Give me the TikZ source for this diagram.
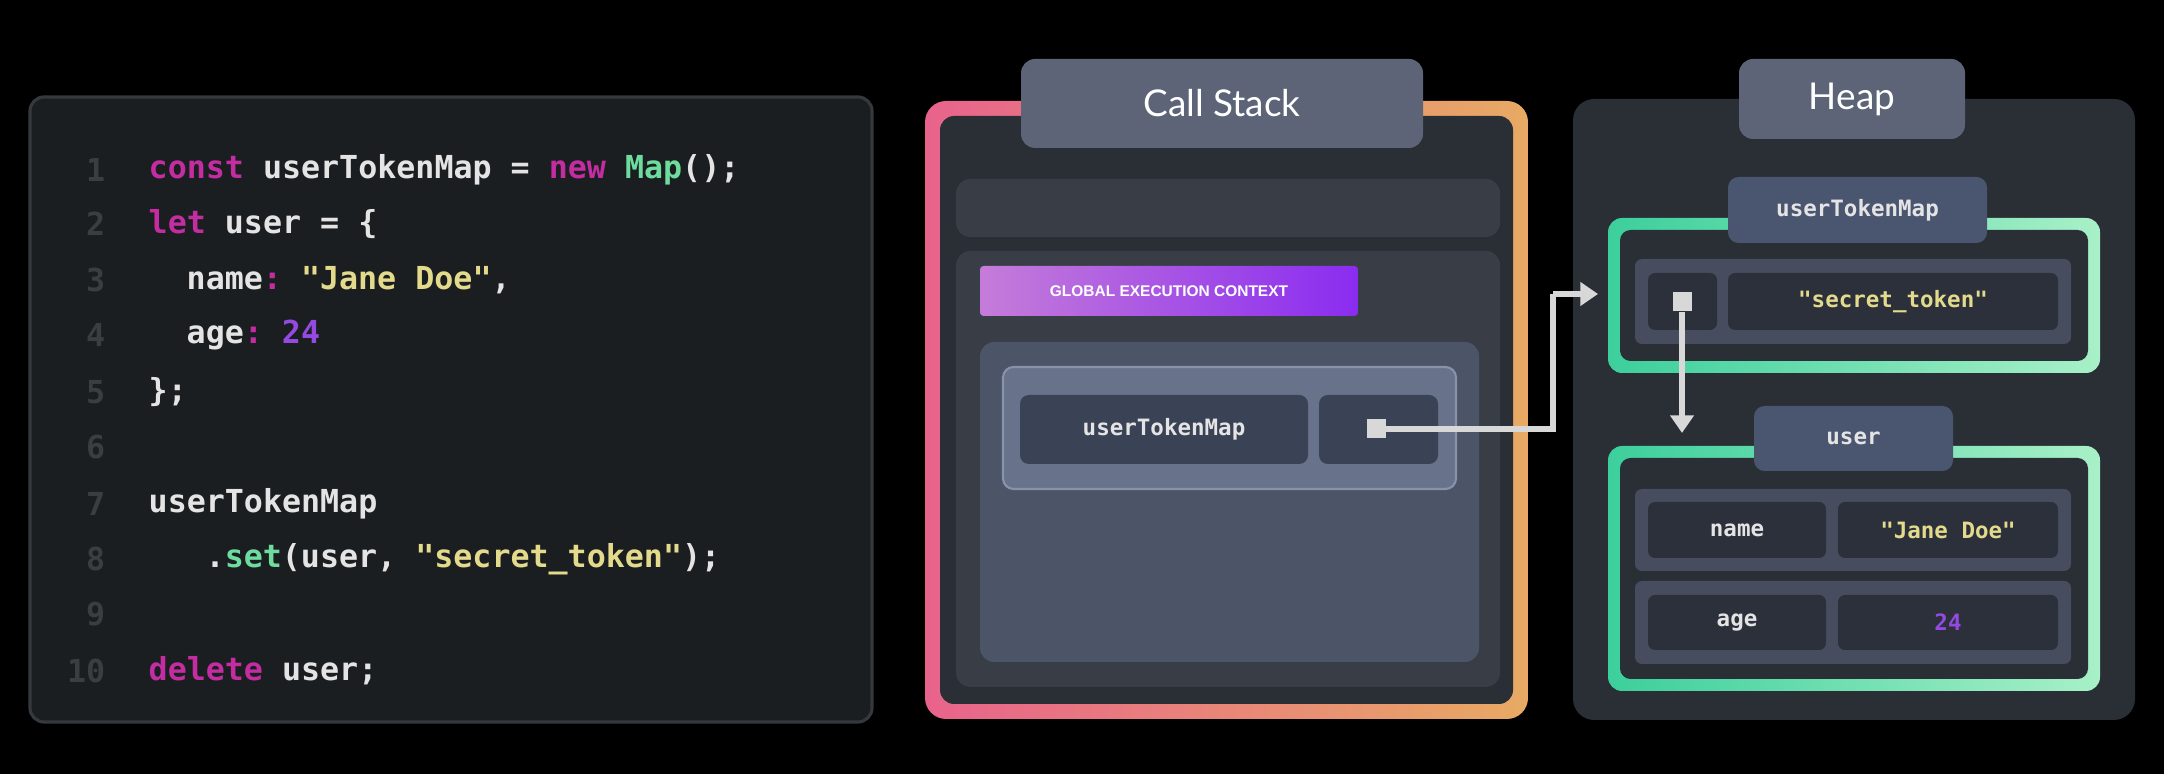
\documentclass[tikz,border=0pt]{standalone}
\usepackage{fontspec}
\setmainfont{Lato}
\setmonofont{DejaVu Sans Mono}
\newfontfamily\gecfont{Liberation Sans}
\usetikzlibrary{fit,arrows.meta}
\definecolor{bg}{HTML}{000000}
\definecolor{codebg}{HTML}{1B1E20}
\definecolor{codeborder}{HTML}{35393D}
\definecolor{kw}{HTML}{C42DA2}
\definecolor{fn}{HTML}{6EDC9E}
\definecolor{str}{HTML}{E4DA8C}
\definecolor{num}{HTML}{9449E0}
\definecolor{plain}{HTML}{E4E4E4}
\definecolor{lnum}{HTML}{3A3E42}
\definecolor{pinkA}{HTML}{E8638C}
\definecolor{orangeA}{HTML}{E8AA64}
\definecolor{panel}{HTML}{2A2E35}
\definecolor{bar}{HTML}{383D46}
\definecolor{titlebox}{HTML}{5D6477}
\definecolor{innerbox}{HTML}{4C5467}
\definecolor{rowbox}{HTML}{68728B}
\definecolor{rowborder}{HTML}{8893AB}
\definecolor{cell}{HTML}{3A4255}
\definecolor{gecL}{HTML}{C57CD9}
\definecolor{gecR}{HTML}{8A2CF0}
\definecolor{greenL}{HTML}{3CCF9C}
\definecolor{greenR}{HTML}{A8F0C8}
\definecolor{objlabel}{HTML}{4A5670}
\definecolor{hrow}{HTML}{474D5E}
\definecolor{hcell}{HTML}{2B303B}
\definecolor{ptrcol}{HTML}{D8D8D8}
\tikzset{
  rbox/.style={inner sep=0pt, outer sep=0pt, rounded corners=5pt},
  codeline/.style={anchor=west, inner sep=0pt, text=plain, font=\ttfamily\bfseries\fontsize{9}{11}\selectfont},
  linenum/.style={anchor=east, inner sep=0pt, text=lnum, font=\ttfamily\bfseries\fontsize{9}{11}\selectfont},
  celltext/.style={text=plain, font=\ttfamily\bfseries\fontsize{6.4}{8}\selectfont},
  titletext/.style={text=white, font=\fontsize{10.5}{12}\selectfont},
  ptrsq/.style={fill=ptrcol, inner sep=0pt, minimum size=0.19cm},
  ptr/.style={draw=ptrcol, line width=1.5pt, -{Triangle[length=5pt,width=6.5pt]}}
}
\newcommand\kwc[1]{\textcolor{kw}{#1}}
\newcommand\fnc[1]{\textcolor{fn}{#1}}
\newcommand\strc[1]{\textcolor{str}{#1}}
\newcommand\numc[1]{\textcolor{num}{#1}}
\begin{document}
\begin{tikzpicture}[x=0.01cm,y=-0.01cm]
\fill[bg] (0,0) rectangle (2164,774);
\useasboundingbox (0,0) rectangle (2164,774);

% ---------- code panel ----------
\node[rbox, rounded corners=4pt, fill=codebg, draw=codeborder, line width=0.9pt, fit={(30,97) (872,722)}] (code) {};
\foreach \n/\y in {1/170,2/224,3/280,4/335,5/392,6/447,7/504,8/559,9/614,10/671}{
  \node[linenum] (ln\n) at (106,\y) {\n};
}
\node[codeline] (c1) at (148,170) {\kwc{const} userTokenMap = \kwc{new} \fnc{Map}();};
\node[codeline] (c2) at (148,224) {\kwc{let} user = \{};
\node[codeline] (c3) at (186,280) {name\kwc{:} \strc{"Jane Doe"},};
\node[codeline] (c4) at (186,335) {age\kwc{:} \numc{24}};
\node[codeline] (c5) at (148,392) {\};};
\node[codeline] (c7) at (148,504) {userTokenMap};
\node[codeline] (c8) at (205,559) {.\fnc{set}(user, \strc{"secret\_token"});};
\node[codeline] (c10) at (148,671) {\kwc{delete} user;};

% ---------- call stack ----------
\node[rbox, rounded corners=6pt, left color=pinkA, right color=orangeA, fit={(925,101) (1528,719)}] (csframe) {};
\node[rbox, rounded corners=4pt, fill=panel, fit={(940,116) (1513,704)}] (cspanel) {};
\node[rbox, rounded corners=4pt, fill=titlebox, fit={(1021,59) (1423,148)}] (cstitle) {};
\node[titletext] (cstitletext) at (cstitle.center) {Call Stack};
\node[rbox, rounded corners=4pt, fill=bar, fit={(956,179) (1500,237)}] (csbar) {};
\node[rbox, rounded corners=4pt, fill=bar, fit={(956,251) (1500,687)}] (csframe2) {};
\node[rbox, rounded corners=1pt, left color=gecL, right color=gecR, fit={(980,266) (1358,316)}] (gec) {};
\node[text=white, font=\gecfont\bfseries\fontsize{4.4}{5}\selectfont] (gectext) at (gec.center) {GLOBAL EXECUTION CONTEXT};
\node[rbox, rounded corners=4pt, fill=innerbox, fit={(980,342) (1479,662)}] (csinner) {};
\node[rbox, rounded corners=3pt, fill=rowbox, draw=rowborder, line width=0.6pt, fit={(1003,367) (1456,489)}] (csrow) {};
\node[rbox, rounded corners=2.5pt, fill=cell, fit={(1020,395) (1308,464)}] (csname) {};
\node[celltext] (csnametext) at (csname.center) {userTokenMap};
\node[rbox, rounded corners=2.5pt, fill=cell, fit={(1319,395) (1438,464)}] (csval) {};

% ---------- heap ----------
\node[rbox, rounded corners=6pt, fill=panel, fit={(1573,99) (2135,720)}] (heap) {};
\node[rbox, rounded corners=4pt, fill=titlebox, fit={(1739,59) (1965,139)}] (heaptitle) {};
\node[titletext] (heaptitletext) at (heaptitle.center) {Heap};

% userTokenMap object
\node[rbox, rounded corners=4pt, left color=greenL, right color=greenR, fit={(1608,218) (2100,373)}] (mapframe) {};
\node[rbox, rounded corners=3pt, fill=panel, fit={(1620,230) (2088,361)}] (mapinner) {};
\node[rbox, rounded corners=3pt, fill=objlabel, fit={(1728,177) (1987,243)}] (maplabel) {};
\node[celltext] (maplabeltext) at (maplabel.center) {userTokenMap};
\node[rbox, rounded corners=2pt, fill=hrow, fit={(1635,259) (2071,344)}] (maprow) {};
\node[rbox, rounded corners=2pt, fill=hcell, fit={(1648,273) (1717,330)}] (mapkey) {};
\node[rbox, rounded corners=2pt, fill=hcell, fit={(1728,273) (2058,330)}] (mapval) {};
\node[celltext, text=str] (mapvaltext) at (mapval.center) {"secret\_token"};

% user object
\node[rbox, rounded corners=4pt, left color=greenL, right color=greenR, fit={(1608,446) (2100,691)}] (userframe) {};
\node[rbox, rounded corners=3pt, fill=panel, fit={(1620,458) (2088,679)}] (userinner) {};
\node[rbox, rounded corners=3pt, fill=objlabel, fit={(1754,406) (1953,471)}] (userlabel) {};
\node[celltext] (userlabeltext) at (userlabel.center) {user};
\node[rbox, rounded corners=2pt, fill=hrow, fit={(1635,489) (2071,571)}] (urow1) {};
\node[rbox, rounded corners=2pt, fill=hcell, fit={(1648,502) (1826,558)}] (ukey1) {};
\node[rbox, rounded corners=2pt, fill=hcell, fit={(1838,502) (2058,558)}] (uval1) {};
\node[celltext] (ukey1text) at (ukey1.center) {name};
\node[celltext, text=str] (uval1text) at (uval1.center) {"Jane Doe"};
\node[rbox, rounded corners=2pt, fill=hrow, fit={(1635,581) (2071,664)}] (urow2) {};
\node[rbox, rounded corners=2pt, fill=hcell, fit={(1648,595) (1826,650)}] (ukey2) {};
\node[rbox, rounded corners=2pt, fill=hcell, fit={(1838,595) (2058,650)}] (uval2) {};
\node[celltext] (ukey2text) at (ukey2.center) {age};
\node[celltext, text=num] (uval2text) at (uval2.center) {24};

% ---------- pointers ----------
\coordinate (turn) at (1553,294);
\coordinate (heapin) at (1598,294);
\coordinate (userin) at (1682,433);
\node[ptrsq] (sq1) at (1376,429) {};
\node[ptrsq] (sq2) at (1682,302) {};
\draw[draw=ptrcol, line width=1.5pt] (sq1.east) -| (turn);
\draw[ptr] (turn) -- (heapin);
\draw[ptr] (sq2.south) -- (userin);
\end{tikzpicture}
\end{document}
